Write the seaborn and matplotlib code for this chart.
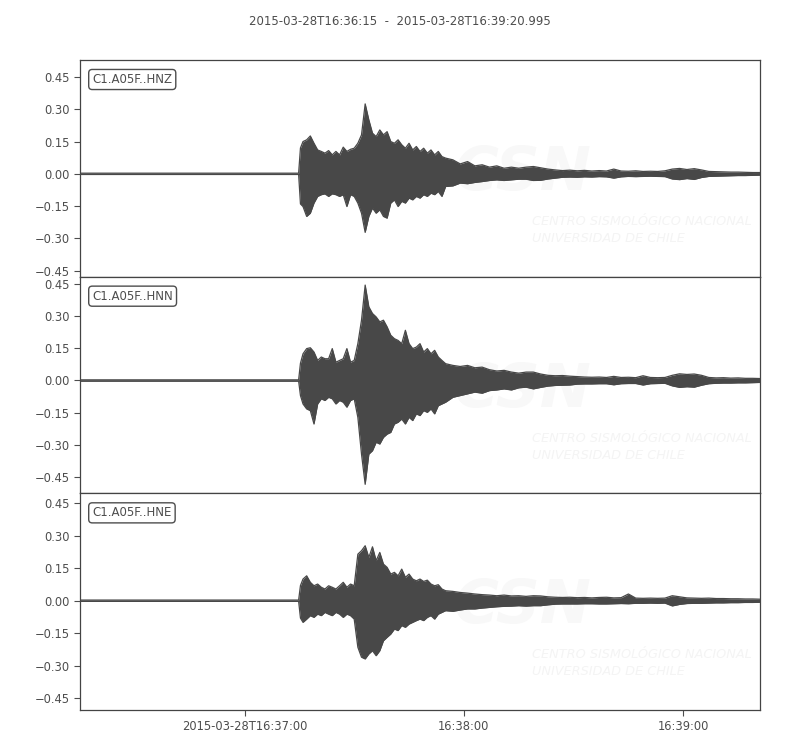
import seaborn as sns
import matplotlib.pyplot as plt

# Sample times (seconds after 2015-03-28T16:36:15)
times = [0, 59.8, 60.3,
         61, 62, 63, 64, 65, 66, 67, 68, 69, 70,
         71, 72, 73, 74, 75, 76, 77, 78, 79, 80,
         81, 82, 83, 84, 85, 86, 87, 88, 89, 90,
         91, 92, 93, 94, 95, 96, 97, 98, 99, 100,
         102, 104, 106, 108, 110, 112, 114, 116, 118, 120, 122, 124,
         126, 128, 130, 132, 134, 136, 138, 140, 142, 144, 146, 148, 150, 152, 154, 156,
         158, 160, 162, 164, 166, 168, 170, 172, 174, 176, 178, 180, 182, 184, 186]

channels = ["C1.A05F..HNZ", "C1.A05F..HNN", "C1.A05F..HNE"]

# max / min envelope of each trace
hnz_max = [0.003, 0.003, 0.120,
           0.150, 0.158, 0.176, 0.142, 0.111, 0.104, 0.096, 0.108, 0.088, 0.104,
           0.088, 0.124, 0.104, 0.114, 0.119, 0.142, 0.181, 0.325, 0.251, 0.189,
           0.173, 0.204, 0.181, 0.196, 0.150, 0.142, 0.158, 0.135, 0.119, 0.142,
           0.111, 0.127, 0.104, 0.119, 0.096, 0.111, 0.088, 0.104, 0.080, 0.073,
           0.065, 0.046, 0.057, 0.037, 0.042, 0.031, 0.037, 0.026, 0.031, 0.026, 0.031, 0.034,
           0.028, 0.022, 0.018, 0.015, 0.017, 0.014, 0.016, 0.013, 0.015, 0.013, 0.022, 0.013,
           0.012, 0.014, 0.011, 0.012, 0.011, 0.014, 0.022, 0.025, 0.020, 0.024, 0.018, 0.011,
           0.010, 0.009, 0.008, 0.008, 0.007, 0.006, 0.006]
hnz_min = [-0.003, -0.003, -0.140,
           -0.152, -0.198, -0.183, -0.136, -0.105, -0.097, -0.093, -0.105, -0.093, -0.097,
           -0.105, -0.097, -0.152, -0.097, -0.105, -0.136, -0.183, -0.272, -0.198, -0.159,
           -0.183, -0.167, -0.198, -0.206, -0.136, -0.121, -0.152, -0.128, -0.136, -0.113,
           -0.121, -0.105, -0.113, -0.097, -0.105, -0.090, -0.097, -0.082, -0.105, -0.059,
           -0.056, -0.043, -0.046, -0.040, -0.036, -0.031, -0.028, -0.031, -0.028, -0.025, -0.025, -0.031,
           -0.030, -0.024, -0.020, -0.016, -0.015, -0.016, -0.014, -0.015, -0.013, -0.014, -0.020, -0.014,
           -0.012, -0.013, -0.012, -0.011, -0.012, -0.013, -0.024, -0.027, -0.022, -0.026, -0.017, -0.012,
           -0.011, -0.010, -0.009, -0.008, -0.008, -0.007, -0.006]

hnn_max = [0.003, 0.003, 0.080,
           0.124, 0.148, 0.152, 0.132, 0.093, 0.109, 0.101, 0.101, 0.148, 0.085,
           0.093, 0.101, 0.148, 0.085, 0.093, 0.171, 0.280, 0.443, 0.342, 0.311,
           0.295, 0.272, 0.280, 0.249, 0.210, 0.194, 0.186, 0.171, 0.233, 0.171,
           0.148, 0.155, 0.171, 0.132, 0.148, 0.124, 0.140, 0.109, 0.093, 0.078,
           0.070, 0.065, 0.070, 0.059, 0.062, 0.050, 0.044, 0.047, 0.039, 0.034, 0.039, 0.039,
           0.030, 0.024, 0.022, 0.023, 0.020, 0.018, 0.016, 0.015, 0.016, 0.014, 0.019, 0.014,
           0.015, 0.013, 0.022, 0.014, 0.013, 0.014, 0.024, 0.031, 0.028, 0.030, 0.024, 0.014,
           0.012, 0.013, 0.011, 0.012, 0.010, 0.010, 0.009]
hnn_min = [-0.003, -0.003, -0.070,
           -0.109, -0.132, -0.140, -0.202, -0.109, -0.085, -0.093, -0.078, -0.085, -0.109,
           -0.093, -0.101, -0.124, -0.093, -0.085, -0.171, -0.342, -0.482, -0.342, -0.326,
           -0.287, -0.295, -0.264, -0.249, -0.241, -0.202, -0.194, -0.179, -0.202, -0.171,
           -0.186, -0.155, -0.163, -0.140, -0.148, -0.132, -0.155, -0.117, -0.109, -0.101,
           -0.078, -0.070, -0.062, -0.054, -0.059, -0.047, -0.044, -0.039, -0.044, -0.034, -0.031, -0.039,
           -0.032, -0.026, -0.023, -0.022, -0.021, -0.017, -0.016, -0.016, -0.015, -0.015, -0.020, -0.015,
           -0.014, -0.014, -0.021, -0.015, -0.014, -0.013, -0.025, -0.032, -0.029, -0.031, -0.022, -0.015,
           -0.013, -0.012, -0.012, -0.011, -0.011, -0.010, -0.009]

hne_max = [0.003, 0.003, 0.070,
           0.100, 0.115, 0.085, 0.069, 0.077, 0.062, 0.054, 0.069, 0.062, 0.054,
           0.069, 0.085, 0.062, 0.077, 0.069, 0.215, 0.231, 0.254, 0.200, 0.249,
           0.185, 0.223, 0.169, 0.154, 0.123, 0.131, 0.115, 0.146, 0.108, 0.123,
           0.100, 0.092, 0.100, 0.089, 0.095, 0.077, 0.069, 0.074, 0.054, 0.046,
           0.043, 0.038, 0.035, 0.031, 0.028, 0.026, 0.023, 0.026, 0.022, 0.023, 0.020, 0.023,
           0.022, 0.018, 0.016, 0.015, 0.016, 0.014, 0.015, 0.013, 0.015, 0.016, 0.013, 0.014,
           0.031, 0.012, 0.011, 0.012, 0.011, 0.012, 0.023, 0.018, 0.013, 0.012, 0.011, 0.012,
           0.010, 0.010, 0.009, 0.009, 0.008, 0.008, 0.007]
hne_min = [-0.003, -0.003, -0.080,
           -0.100, -0.085, -0.069, -0.077, -0.062, -0.069, -0.054, -0.062, -0.069, -0.054,
           -0.062, -0.077, -0.062, -0.069, -0.085, -0.215, -0.261, -0.269, -0.246, -0.231,
           -0.254, -0.231, -0.185, -0.169, -0.154, -0.131, -0.138, -0.115, -0.123, -0.108,
           -0.100, -0.092, -0.085, -0.092, -0.077, -0.069, -0.085, -0.062, -0.054, -0.046,
           -0.049, -0.043, -0.038, -0.038, -0.034, -0.031, -0.028, -0.026, -0.025, -0.023, -0.025, -0.023,
           -0.023, -0.019, -0.016, -0.015, -0.015, -0.015, -0.014, -0.014, -0.015, -0.015, -0.014, -0.013,
           -0.014, -0.012, -0.012, -0.011, -0.012, -0.011, -0.024, -0.017, -0.013, -0.012, -0.012, -0.011,
           -0.010, -0.010, -0.009, -0.009, -0.008, -0.008, -0.007]

y_limits = [(-0.478, 0.529), (-0.524, 0.482), (-0.505, 0.496)]
y_ticks = [-0.45, -0.30, -0.15, 0.0, 0.15, 0.30, 0.45]
x_ticks = [45, 105, 165]
x_labels = ["2015-03-28T16:37:00", "16:38:00", "16:39:00"]
title = "2015-03-28T16:36:15  -  2015-03-28T16:39:20.995"

sns.set_style("ticks")
text_color = "#4d4d4d"
wave_color = "#484848"
plt.rcParams["text.color"] = text_color
plt.rcParams["xtick.color"] = text_color
plt.rcParams["ytick.color"] = text_color

fig, axes = plt.subplots(3, 1, figsize=(8, 7.5), dpi=100, sharex=True)
fig.subplots_adjust(left=0.1, right=0.95, top=0.92, bottom=0.0533, hspace=0)

traces = [(hnz_max, hnz_min), (hnn_max, hnn_min), (hne_max, hne_min)]
for ax, name, (top, bot), lim in zip(axes, channels, traces, y_limits):
    # very faint watermark
    ax.text(0.55, 0.40, "CSN", transform=ax.transAxes, fontsize=44, fontweight="bold",
            fontstyle="italic", color="#f8f8f8", zorder=0, clip_on=True)
    ax.text(0.665, 0.16, "CENTRO SISMOLÓGICO NACIONAL\nUNIVERSIDAD DE CHILE",
            transform=ax.transAxes, fontsize=9.3, fontstyle="italic", color="#f4f4f4",
            linespacing=1.4, zorder=0, clip_on=True)

    ax.fill_between(times, bot, top, color=wave_color, lw=0, zorder=2)
    sns.lineplot(x=times, y=top, ax=ax, color=wave_color, lw=0.9, zorder=3)
    sns.lineplot(x=times, y=bot, ax=ax, color=wave_color, lw=0.9, zorder=3)

    ax.set_ylim(*lim)
    ax.set_yticks(y_ticks)
    ax.set_yticklabels([f"{v:.2f}".replace("-", "\u2212") for v in y_ticks])
    ax.tick_params(labelsize=8.3, colors=text_color, length=4, width=0.8)
    for s in ax.spines.values():
        s.set_color("#444444")
        s.set_linewidth(0.9)
    ax.text(0.018, 0.94, name, transform=ax.transAxes, fontsize=8.5, va="top", ha="left",
            color=text_color,
            bbox=dict(boxstyle="round,pad=0.3", fc="white", ec=text_color, lw=1))
    ax.set_ylabel("")

for ax in axes[:-1]:
    ax.tick_params(axis="x", bottom=False)

axes[-1].set_xlim(0, 185.995)
axes[-1].set_xticks(x_ticks)
axes[-1].set_xticklabels(x_labels)
fig.suptitle(title, fontsize=8.5, color=text_color, y=0.98)

fig.savefig("out.png", dpi=100)
